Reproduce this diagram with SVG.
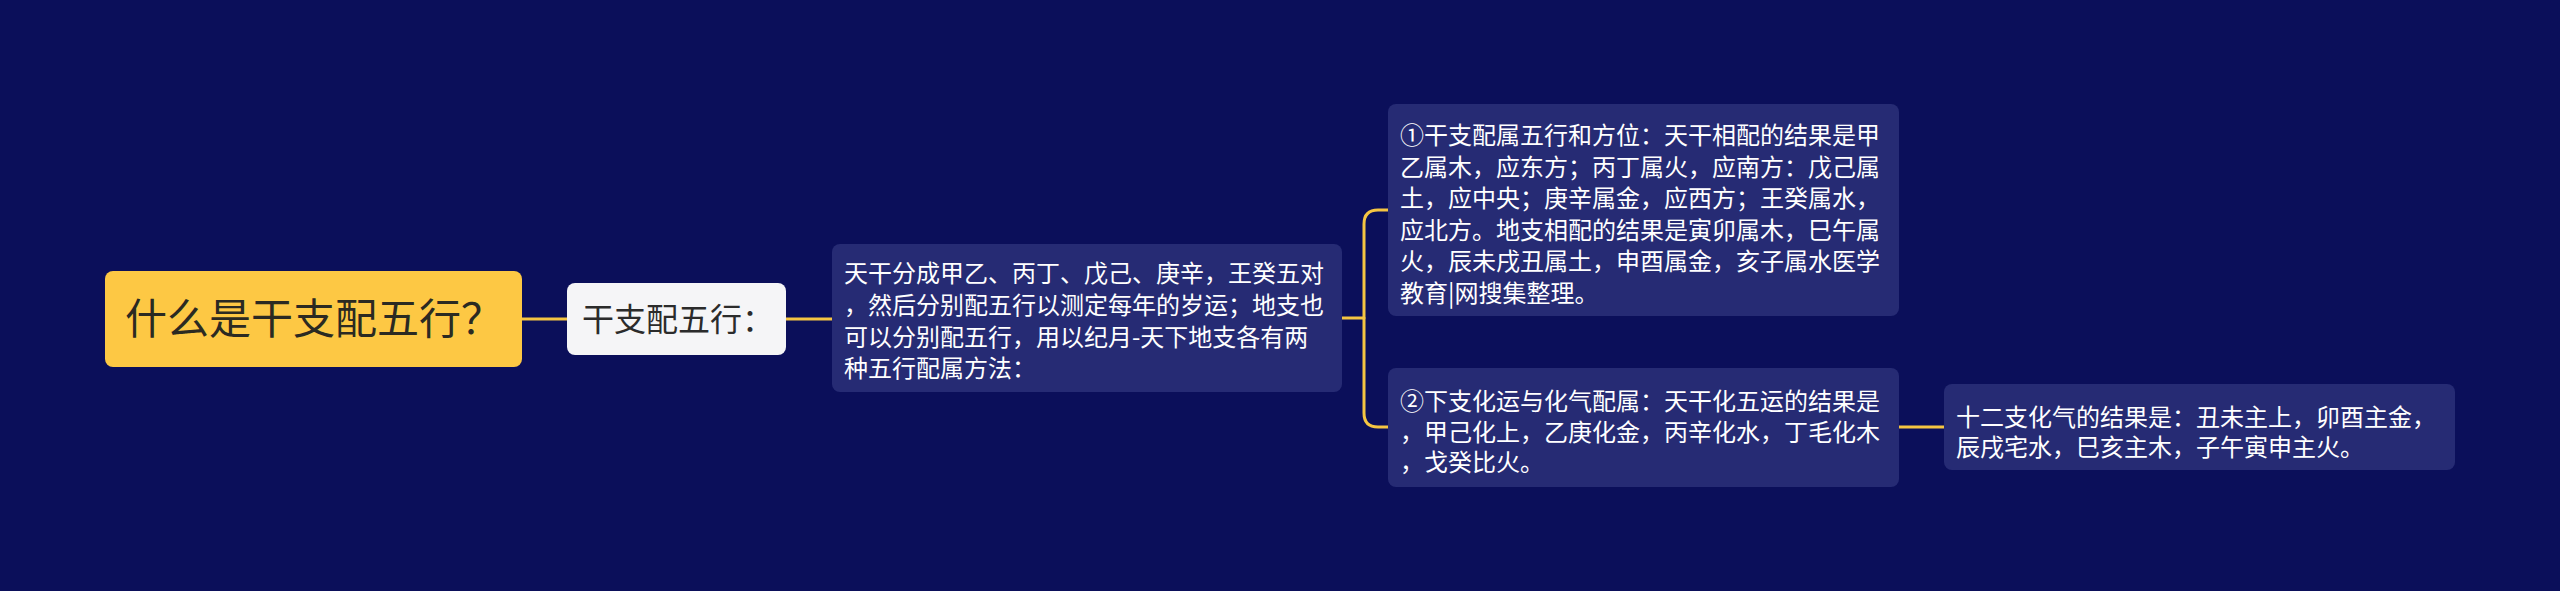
<svg xmlns="http://www.w3.org/2000/svg" width="2560" height="591" viewBox="0 0 2560 591">
<style>
.bg{fill:#0b0f5a}
.sub{fill:#262b74}
.t{font-family:"Noto Sans CJK SC","Noto Sans",sans-serif;font-size:24px;fill:#ffffff}
.conn{fill:none;stroke:#f5c542;stroke-width:3;stroke-linecap:round}
</style>
<rect class="bg" x="0" y="0" width="2560" height="591"/>
<g id="connectors">
<path class="conn" d="M522,319 H567"/>
<path class="conn" d="M786,319 H832"/>
<path class="conn" d="M1342,318 H1364"/>
<path class="conn" d="M1388,210 H1378 Q1364,210 1364,224 V413 Q1364,427 1378,427 H1388"/>
<path class="conn" d="M1899,427 H1944"/>
</g>
<g id="root">
<rect x="105" y="271" width="417" height="96" rx="8" fill="#fdc844"/>
<text x="125" y="334" style="font-family:'Noto Sans CJK SC','Noto Sans',sans-serif;font-size:42px;fill:#2b2a22">什么是干支配五行？</text>
</g>
<g id="n1">
<rect x="567" y="283" width="219" height="72" rx="8" fill="#f5f5f7"/>
<text x="582" y="331" style="font-family:'Noto Sans CJK SC','Noto Sans',sans-serif;font-size:32px;fill:#2b2b2b">干支配五行：</text>
</g>
<g id="n2">
<rect class="sub" x="832" y="244" width="510" height="148" rx="8"/>
<text class="t" x="844" y="282">天干分成甲乙、丙丁、戊己、庚辛，王癸五对</text>
<text class="t" x="844" y="314">，然后分别配五行以测定每年的岁运；地支也</text>
<text class="t" x="844" y="346">可以分别配五行，用以纪月-天下地支各有两</text>
<text class="t" x="844" y="377">种五行配属方法：</text>
</g>
<g id="n3">
<rect class="sub" x="1388" y="104" width="511" height="212" rx="8"/>
<text class="t" x="1400" y="144">①干支配属五行和方位：天干相配的结果是甲</text>
<text class="t" x="1400" y="175.5">乙属木，应东方；丙丁属火，应南方：戊己属</text>
<text class="t" x="1400" y="207">土，应中央；庚辛属金，应西方；王癸属水，</text>
<text class="t" x="1400" y="238.5">应北方。地支相配的结果是寅卯属木，巳午属</text>
<text class="t" x="1400" y="270">火，辰未戌丑属土，申酉属金，亥子属水医学</text>
<text class="t" x="1400" y="301.5">教育|网搜集整理。</text>
</g>
<g id="n4">
<rect class="sub" x="1388" y="368" width="511" height="119" rx="8"/>
<text class="t" x="1400" y="410">②下支化运与化气配属：天干化五运的结果是</text>
<text class="t" x="1400" y="441">，甲己化上，乙庚化金，丙辛化水，丁毛化木</text>
<text class="t" x="1400" y="471">，戈癸比火。</text>
</g>
<g id="n5">
<rect class="sub" x="1944" y="384" width="511" height="86" rx="8"/>
<text class="t" x="1956" y="425.5">十二支化气的结果是：丑未主上，卯酉主金，</text>
<text class="t" x="1956" y="456">辰戌宅水，巳亥主木，子午寅申主火。</text>
</g>
</svg>
